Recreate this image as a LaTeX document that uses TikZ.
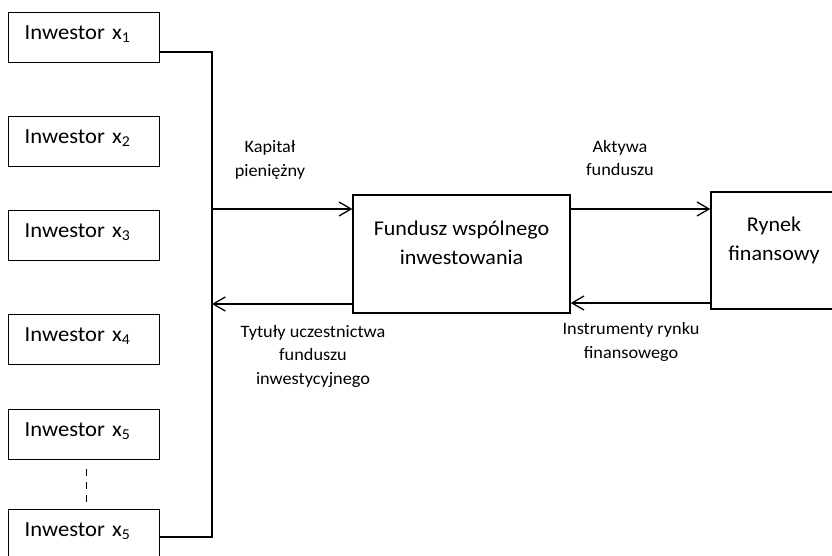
\documentclass[tikz,border=0pt]{standalone}
\usepackage{fontspec}
\setmainfont[FakeStretch=1.05]{Carlito}
\usetikzlibrary{arrows.meta}
\begin{document}
\begin{tikzpicture}[x=1pt,y=-1pt,
  line width=1.3pt,
  inv/.style={draw, line width=1.4pt, anchor=north west, minimum height=50pt,
    text width=118pt, inner xsep=16.5pt, align=left, text height=14pt, text depth=10pt,
    font=\fontsize{21.5}{25}\selectfont},
  bigbox/.style={draw, line width=1.4pt, inner sep=0pt},
  boxtext/.style={align=center, inner sep=0pt, font=\fontsize{21}{29}\selectfont},
  lbl/.style={align=center, inner sep=0pt, font=\fontsize{17.4}{23.5}\selectfont},
  arr/.style={-{Straight Barb[length=12pt,width=14pt,line width=1.3pt]}}
]
\useasboundingbox (0,0) rectangle (832,556);

% investors
\node[inv] (inv1) at (7.5,12) {Inwestor x\textsubscript{1}};
\node[inv] (inv2) at (7.5,116) {Inwestor x\textsubscript{2}};
\node[inv] (inv3) at (7.5,210) {Inwestor x\textsubscript{3}};
\node[inv] (inv4) at (7.5,314) {Inwestor x\textsubscript{4}};
\node[inv] (inv5) at (7.5,409) {Inwestor x\textsubscript{5}};
\node[inv] (inv6) at (7.5,509) {Inwestor x\textsubscript{5}};
\draw[dashed, dash pattern=on 7pt off 6pt] ([xshift=3pt,yshift=-9pt]inv5.south) -- ([xshift=3pt,yshift=5pt]inv6.north);

% bus
\coordinate (bus1) at (212,52);
\coordinate (bus2) at (212,537);
\draw (bus1 -| inv1.east) -- (bus1) -- (bus2) -- (bus2 -| inv6.east);

% fund and market
\node[bigbox, minimum width=217pt, minimum height=118pt] (fund) at (461.5,254) {};
\node[boxtext] (fundt) at (461.5,243) {Fundusz wspólnego\\inwestowania};
\node[bigbox, minimum width=150pt, minimum height=117pt] (rynek) at (786,250.5) {};
\node[boxtext] (rynekt) at (774,240) {Rynek\\finansowy};

% arrows
\coordinate (k1) at (212,209);
\coordinate (k2) at (212,304);
\draw[arr] (k1) -- (k1 -| fund.west);
\draw[arr] (k2 -| fund.west) -- (k2);
\coordinate (a1) at (fund.east |- 0,209);
\coordinate (a2) at (fund.east |- 0,303);
\draw[arr] (a1) -- (a1 -| rynek.west);
\draw[arr] (a2 -| rynek.west) -- (a2);

% labels
\node[lbl] (l1) at (270,160) {Kapitał\\pieniężny};
\node[lbl] (l2) at (620,158) {Aktywa\\funduszu};
\node[lbl] (l3) at (313,356) {Tytuły uczestnictwa\\funduszu\\inwestycyjnego};
\node[lbl] (l4) at (631,342) {Instrumenty rynku\\finansowego};
\end{tikzpicture}
\end{document}
